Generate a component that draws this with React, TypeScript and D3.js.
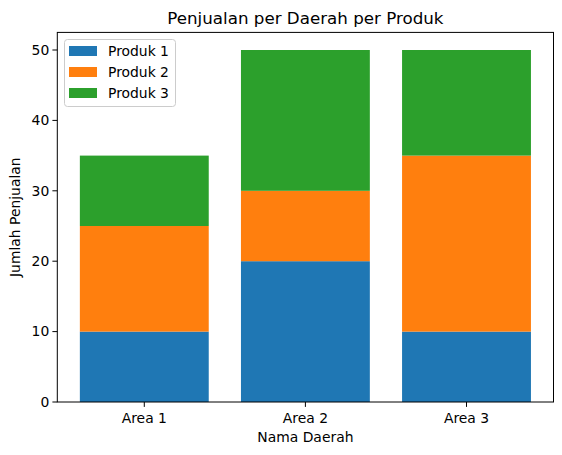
import React from "react";
import * as d3 from "d3";

const categories = ["Area 1", "Area 2", "Area 3"];
const seriesNames = ["Produk 1", "Produk 2", "Produk 3"];
const produk1 = [10, 20, 10];
const produk2 = [15, 10, 25];
const produk3 = [10, 20, 15];
const yTicks = [0, 10, 20, 30, 40, 50];
const colors = ["#1f77b4", "#ff7f0e", "#2ca02c"];

const W = 562, H = 455;
const L = 57.3, R = 553.5, T = 32.4, B = 402;
const FONT = "DejaVu Sans, sans-serif";

export default function App() {
  React.useEffect(() => {
    document.body.style.margin = "0";
  }, []);
  const x = d3.scaleLinear().domain([-0.54, 2.54]).range([L, R]);
  const y = d3.scaleLinear().domain([0, 52.5]).range([B, T]);
  const series = [produk1, produk2, produk3];
  const rows = categories.map((c, i) => {
    const o: any = { cat: c, idx: i };
    seriesNames.forEach((s, k) => (o[s] = series[k][i]));
    return o;
  });
  const stacked = d3.stack<any>().keys(seriesNames)(rows);
  const bw = 0.8;
  return (
    <svg width={W} height={H} style={{ display: "block" }} fontFamily={FONT}>
      <rect width={W} height={H} fill="#fff" />
      {stacked.map((layer, k) =>
        layer.map((d, i) => (
          <rect
            key={`${k}-${i}`}
            x={x(i - bw / 2)}
            width={x(i + bw / 2) - x(i - bw / 2)}
            y={y(d[1])}
            height={y(d[0]) - y(d[1])}
            fill={colors[k]}
          />
        ))
      )}
      <rect x={L} y={T} width={R - L} height={B - T} fill="none" stroke="#000" strokeWidth={1} />
      {yTicks.map((t) => (
        <g key={t}>
          <line x1={L - 4.9} x2={L} y1={y(t)} y2={y(t)} stroke="#000" strokeWidth={1} />
          <text x={L - 8} y={y(t)} dy="0.35em" textAnchor="end" fontSize={13.9} fill="#000">
            {t}
          </text>
        </g>
      ))}
      {categories.map((c, i) => (
        <g key={c}>
          <line x1={x(i)} x2={x(i)} y1={B} y2={B + 4.9} stroke="#000" strokeWidth={1} />
          <text x={x(i)} y={B + 20.5} textAnchor="middle" fontSize={13.9} fill="#000">
            {c}
          </text>
        </g>
      ))}
      <text x={(L + R) / 2} y={442} textAnchor="middle" fontSize={13.9} fill="#000">
        Nama Daerah
      </text>
      <text
        transform={`translate(19.5,${(T + B) / 2}) rotate(-90)`}
        textAnchor="middle"
        fontSize={13.9}
        fill="#000"
      >
        Jumlah Penjualan
      </text>
      <text x={(L + R) / 2} y={24} textAnchor="middle" fontSize={16.7} fill="#000">
        Penjualan per Daerah per Produk
      </text>
      <g>
        <rect x={64.5} y={39.5} width={111} height={67} rx={3} fill="#fff" fillOpacity={0.8} stroke="#ccc" strokeWidth={1} />
        {seriesNames.map((s, k) => (
          <g key={s} transform={`translate(0,${k * 21})`}>
            <rect x={69} y={46} width={28} height={10} fill={colors[k]} />
            <text x={108} y={51} dy="0.35em" fontSize={13.9} fill="#000">
              {s}
            </text>
          </g>
        ))}
      </g>
    </svg>
  );
}
